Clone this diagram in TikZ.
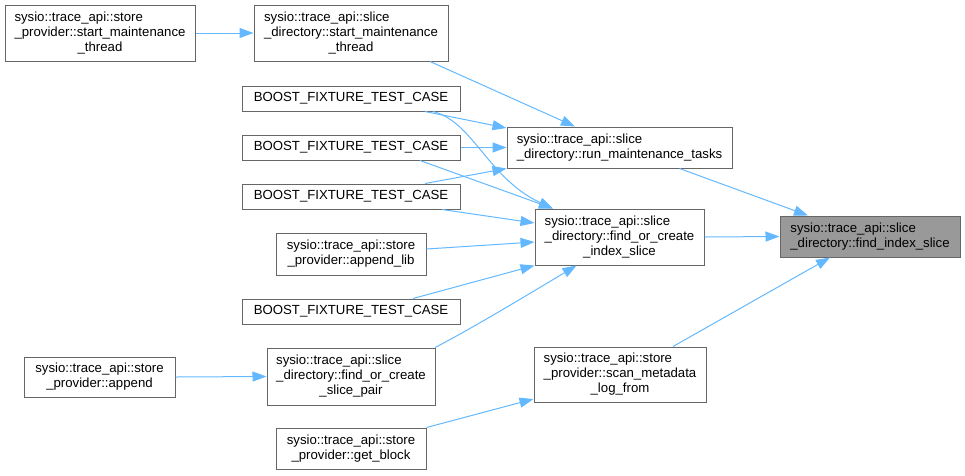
\documentclass[tikz,border=0pt]{standalone}
\usepackage{fontspec}
\setmainfont{Liberation Sans}
\usetikzlibrary{arrows.meta,calc}
\definecolor{edgeblue}{HTML}{63B8FF}
\definecolor{boxgray}{HTML}{666666}
\definecolor{fillgray}{HTML}{999999}
\newcommand\twol[2]{\begin{tabular}{@{}l@{}}#1\\\multicolumn{1}{@{}c@{}}{#2}\end{tabular}}
\newcommand\threel[3]{\begin{tabular}{@{}l@{}}#1\\#2\\\multicolumn{1}{@{}c@{}}{#3}\end{tabular}}
\begin{document}
\begin{tikzpicture}[x=1pt,y=-1pt,
  box/.style={draw=boxgray, line width=1pt, fill=white, inner sep=0pt, font=\fontsize{13.2}{15}\selectfont},
  edge/.style={draw=edgeblue, line width=1pt, -{Triangle[length=14pt,width=10pt]}},
]
\useasboundingbox (0,0) rectangle (965,475);
% nodes
\node[box, minimum width=190pt, minimum height=56pt] (A) at (100,33) {\threel{sysio::trace\_api::store}{\_provider::start\_maintenance}{\_thread}};
\node[box, minimum width=194pt, minimum height=56pt] (B) at (351,33) {\threel{sysio::trace\_api::slice}{\_directory::start\_maintenance}{\_thread}};
\node[box, minimum width=218pt, minimum height=25pt] (C1) at (351,98.5) {BOOST\_FIXTURE\_TEST\_CASE};
\node[box, minimum width=218pt, minimum height=25pt] (C2) at (351,147.5) {BOOST\_FIXTURE\_TEST\_CASE};
\node[box, minimum width=218pt, minimum height=25pt] (C3) at (351,196.5) {BOOST\_FIXTURE\_TEST\_CASE};
\node[box, minimum width=150pt, minimum height=42pt] (D) at (351,254) {\twol{sysio::trace\_api::store}{\_provider::append\_lib}};
\node[box, minimum width=218pt, minimum height=25pt] (C4) at (351,311.5) {BOOST\_FIXTURE\_TEST\_CASE};
\node[box, minimum width=168pt, minimum height=57pt] (E) at (351,376.5) {\threel{sysio::trace\_api::slice}{\_directory::find\_or\_create}{\_slice\_pair}};
\node[box, minimum width=151pt, minimum height=40pt] (F) at (99.5,377) {\twol{sysio::trace\_api::store}{\_provider::append}};
\node[box, minimum width=150pt, minimum height=41pt] (G) at (351,448.5) {\twol{sysio::trace\_api::store}{\_provider::get\_block}};
\node[box, minimum width=225pt, minimum height=41pt] (H) at (619.5,147.5) {\twol{sysio::trace\_api::slice}{\_directory::run\_maintenance\_tasks}};
\node[box, minimum width=169pt, minimum height=56pt] (I) at (619.5,237) {\threel{sysio::trace\_api::slice}{\_directory::find\_or\_create}{\_index\_slice}};
\node[box, fill=fillgray, minimum width=180pt, minimum height=41pt] (J) at (870,236.5) {\twol{sysio::trace\_api::slice}{\_directory::find\_index\_slice}};
\node[box, minimum width=172pt, minimum height=55pt] (K) at (620,374.5) {\threel{sysio::trace\_api::store}{\_provider::scan\_metadata}{\_log\_from}};
% edges
\draw[edge] (A.east) -- (B.west);
\draw[edge] ([xshift=79pt]B.south) -- ([xshift=-44.5pt]H.north);
\draw[edge] ([xshift=74pt]C1.south) -- ([yshift=19.5pt]H.west);
\draw[edge] ([xshift=82pt]C1.south) .. controls +(40,10) and +(-65,-30) .. ([xshift=-66.5pt]I.north);
\draw[edge] (C2.east) -- (H.west);
\draw[edge] ([xshift=69pt]C2.south) -- ([xshift=-66.5pt]I.north);
\draw[edge] ([xshift=74pt]C3.north) -- (H.south west);
\draw[edge] ([xshift=91pt]C3.south) -- ([yshift=14pt]I.west);
\draw[edge] ([yshift=5pt]D.east) -- ([yshift=-5pt]I.west);
\draw[edge] ([xshift=62pt]C4.north) -- (I.south west);
\draw[edge] ([xshift=84pt]E.north) .. controls +(35,-18) and +(-50,30) .. ([xshift=-43pt]I.south);
\draw[edge] ([xshift=60pt]H.south) -- ([xshift=-62pt]J.north);
\draw[edge] (I.east) -- (J.west);
\draw[edge] ([xshift=53pt]K.north) -- ([xshift=-40pt]J.south);
\draw[edge] (G.north east) -- ([yshift=-24.5pt]K.west);
\draw[edge] (F.east) -- (E.west);
\end{tikzpicture}
\end{document}
